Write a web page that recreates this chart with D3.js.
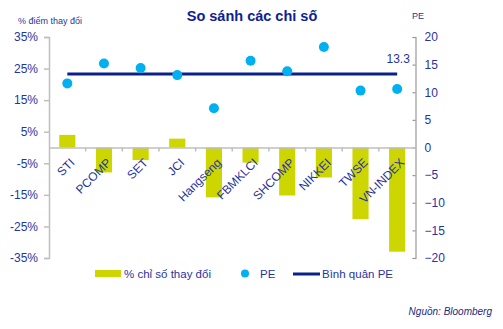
<!DOCTYPE html>
<html><head><meta charset="utf-8">
<script src="https://cdn.jsdelivr.net/npm/d3@7"></script>
<style>
body{margin:0;background:#fff;}
text{font-family:"Liberation Sans",Arial,sans-serif;}
</style></head>
<body><svg id="c" width="503" height="329"></svg>
<script>
const categories = ["STI","PCOMP","SET","JCI","Hangseng","FBMKLCI","SHCOMP","NIKKEI","TWSE","VN-INDEX"];
const pctChange = [4.0, -7.9, -4.0, 2.8, -15.8, -4.8, -15.2, -9.5, -22.7, -33.0];
const peValues = [11.6, 15.2, 14.4, 13.1, 7.1, 15.7, 13.8, 18.2, 10.3, 10.6];
const avgPE = 13.3;
const leftTicks = [35, 25, 15, 5, -5, -15, -25, -35];
const rightTicks = [20, 15, 10, 5, 0, -5, -10, -15, -20];

const svg = d3.select("#c");
const textCol = "#1f35a0";
const barCol = "#cdd600";
const dotCol = "#00b0f0";
const lineCol = "#0a2189";
const axisCol = "#bfbfbf";

const L = 49, R = 415.5, T = 37, B = 258;
const x = d3.scaleBand().domain(categories).range([L, R]).paddingInner(0).paddingOuter(0);
const yL = d3.scaleLinear().domain([-35, 35]).range([B, T]);
const yR = d3.scaleLinear().domain([-20, 20]).range([B, T]);

// bars
const bw = x.bandwidth() * 0.44;
svg.append("g").selectAll("rect").data(categories).join("rect")
  .attr("x", (d) => x(d) + x.bandwidth()/2 - bw/2)
  .attr("width", bw)
  .attr("y", (d,i) => yL(Math.max(0, pctChange[i])))
  .attr("height", (d,i) => Math.abs(yL(pctChange[i]) - yL(0)))
  .attr("fill", barCol);

// left axis
const gL = svg.append("g").attr("transform", `translate(${L},0)`)
  .call(d3.axisLeft(yL).tickValues(leftTicks).tickSize(5).tickFormat(d => d + "%"));
gL.select(".domain").attr("stroke", axisCol).attr("stroke-width", 1.5);
gL.selectAll(".tick line").attr("stroke", axisCol).attr("stroke-width", 1.5);
gL.selectAll(".tick text").attr("fill", textCol).attr("font-size", 12).attr("x", -11)
  .attr("font-family", "Liberation Sans, Arial, sans-serif");

// right axis
const gR = svg.append("g").attr("transform", `translate(${R},0)`)
  .call(d3.axisRight(yR).tickValues(rightTicks).tickSize(-3).tickFormat(d3.format("d")));
gR.select(".domain").attr("stroke", "#999").attr("stroke-width", 1.2);
gR.selectAll(".tick line").attr("stroke", "#999").attr("stroke-width", 1.2);
gR.selectAll(".tick text").attr("fill", textCol).attr("font-size", 12).attr("x", 9)
  .attr("font-family", "Liberation Sans, Arial, sans-serif");

// zero line with category ticks
const gX = svg.append("g").attr("transform", `translate(0,${yL(0)})`)
  .call(d3.axisBottom(x).tickSize(0).tickFormat(""));
gX.select(".domain").attr("stroke", axisCol).attr("stroke-width", 1.5);
svg.append("g").selectAll("line").data(categories.slice(1)).join("line")
  .attr("x1", d => x(d)).attr("x2", d => x(d))
  .attr("y1", yL(0)).attr("y2", yL(0) + 4)
  .attr("stroke", axisCol).attr("stroke-width", 1.5);

// category labels
svg.append("g").selectAll("text").data(categories).join("text")
  .attr("transform", d => `translate(${x(d) + x.bandwidth()/2 + 2},${yL(0) + 10}) rotate(-45)`)
  .attr("text-anchor", "end").attr("dy", "0.7em")
  .attr("fill", textCol).attr("font-size", 12).text(d => d);

// average line
const cx = d => x(d) + x.bandwidth()/2;
svg.append("line")
  .attr("x1", cx(categories[0])).attr("x2", cx(categories[categories.length-1]))
  .attr("y1", yR(avgPE)).attr("y2", yR(avgPE))
  .attr("stroke", lineCol).attr("stroke-width", 3);
svg.append("text").attr("x", cx(categories[categories.length-1]) + 1).attr("y", yR(avgPE) - 11)
  .attr("text-anchor", "middle").attr("fill", textCol).attr("font-size", 12).text(avgPE.toFixed(1));

// dots
svg.append("g").selectAll("circle").data(categories).join("circle")
  .attr("cx", d => cx(d)).attr("cy", (d,i) => yR(peValues[i])).attr("r", 5)
  .attr("fill", dotCol);

// titles
svg.append("text").attr("x", 252).attr("y", 21).attr("text-anchor", "middle")
  .attr("fill", "#0d2290").attr("font-size", 14.5).attr("font-weight", "bold").text("So sánh các chỉ số");
svg.append("text").attr("x", 18).attr("y", 24).attr("fill", textCol).attr("font-size", 9).text("% điểm thay đổi");
svg.append("text").attr("x", 412).attr("y", 19).attr("fill", textCol).attr("font-size", 9).text("PE");

// legend
const ly = 274;
svg.append("rect").attr("x", 95).attr("y", ly - 4).attr("width", 26).attr("height", 7).attr("fill", barCol);
svg.append("text").attr("x", 124).attr("y", ly + 4).attr("fill", textCol).attr("font-size", 11.5).text("% chỉ số thay đổi");
svg.append("circle").attr("cx", 245).attr("cy", ly - 0.5).attr("r", 4).attr("fill", dotCol);
svg.append("text").attr("x", 260).attr("y", ly + 4).attr("fill", textCol).attr("font-size", 11.5).text("PE");
svg.append("line").attr("x1", 293).attr("x2", 320).attr("y1", ly).attr("y2", ly).attr("stroke", lineCol).attr("stroke-width", 3);
svg.append("text").attr("x", 322).attr("y", ly + 4).attr("fill", textCol).attr("font-size", 11.5).text("Bình quân PE");

svg.append("text").attr("x", 492).attr("y", 315).attr("text-anchor", "end")
  .attr("fill", "#1a2a80").attr("font-size", 10).attr("font-style", "italic").text("Nguồn: Bloomberg");
</script></body></html>
